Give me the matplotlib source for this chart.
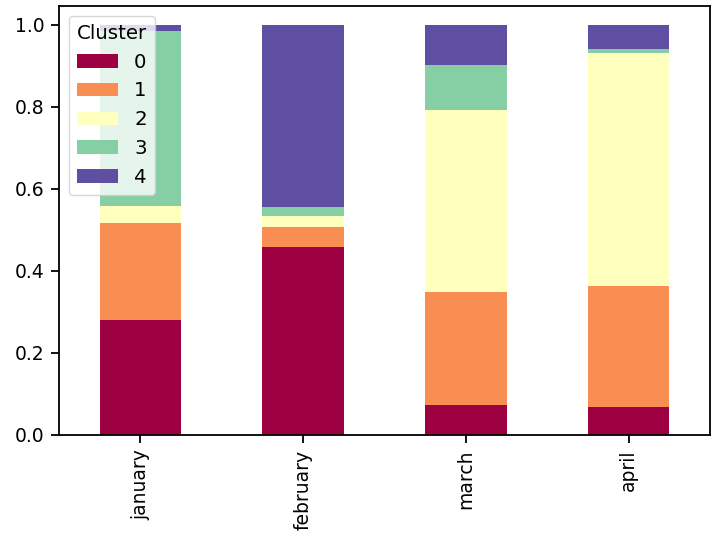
import matplotlib
matplotlib.use('Agg')
import matplotlib.pyplot as plt
import numpy as np
import pandas as pd

# share of each cluster per month
months = ['january', 'february', 'march', 'april']
clusters = [0, 1, 2, 3, 4]
cluster_0 = [0.280, 0.458, 0.073, 0.068]
cluster_1 = [0.236, 0.048, 0.275, 0.295]
cluster_2 = [0.043, 0.029, 0.444, 0.569]
cluster_3 = [0.426, 0.020, 0.110, 0.009]
cluster_4 = [0.015, 0.445, 0.098, 0.059]

df = pd.DataFrame({0: cluster_0, 1: cluster_1, 2: cluster_2, 3: cluster_3, 4: cluster_4},
                  index=months)
df.columns.name = 'Cluster'

plt.rcParams['font.size'] = 13.5
plt.rcParams['axes.linewidth'] = 1.3
plt.rcParams['xtick.major.width'] = 1.3
plt.rcParams['ytick.major.width'] = 1.3
plt.rcParams['xtick.major.size'] = 5.5
plt.rcParams['ytick.major.size'] = 5.5
plt.rcParams['xtick.major.pad'] = 5
plt.rcParams['ytick.major.pad'] = 5

fig = plt.figure(figsize=(7.11, 5.35), dpi=100)
ax = fig.add_axes([59 / 711, 100 / 535, 651 / 711, 429 / 535])

df.plot(kind='bar', stacked=True, colormap='Spectral', ax=ax, width=0.5)

ax.set_ylim(0, 1.046)
ax.set_yticks([0.0, 0.2, 0.4, 0.6, 0.8, 1.0])
ax.legend(title='Cluster', loc='upper left', fontsize=14.2, title_fontsize=14.2,
          handlelength=2.1)

fig.savefig('out.png', dpi=100)
